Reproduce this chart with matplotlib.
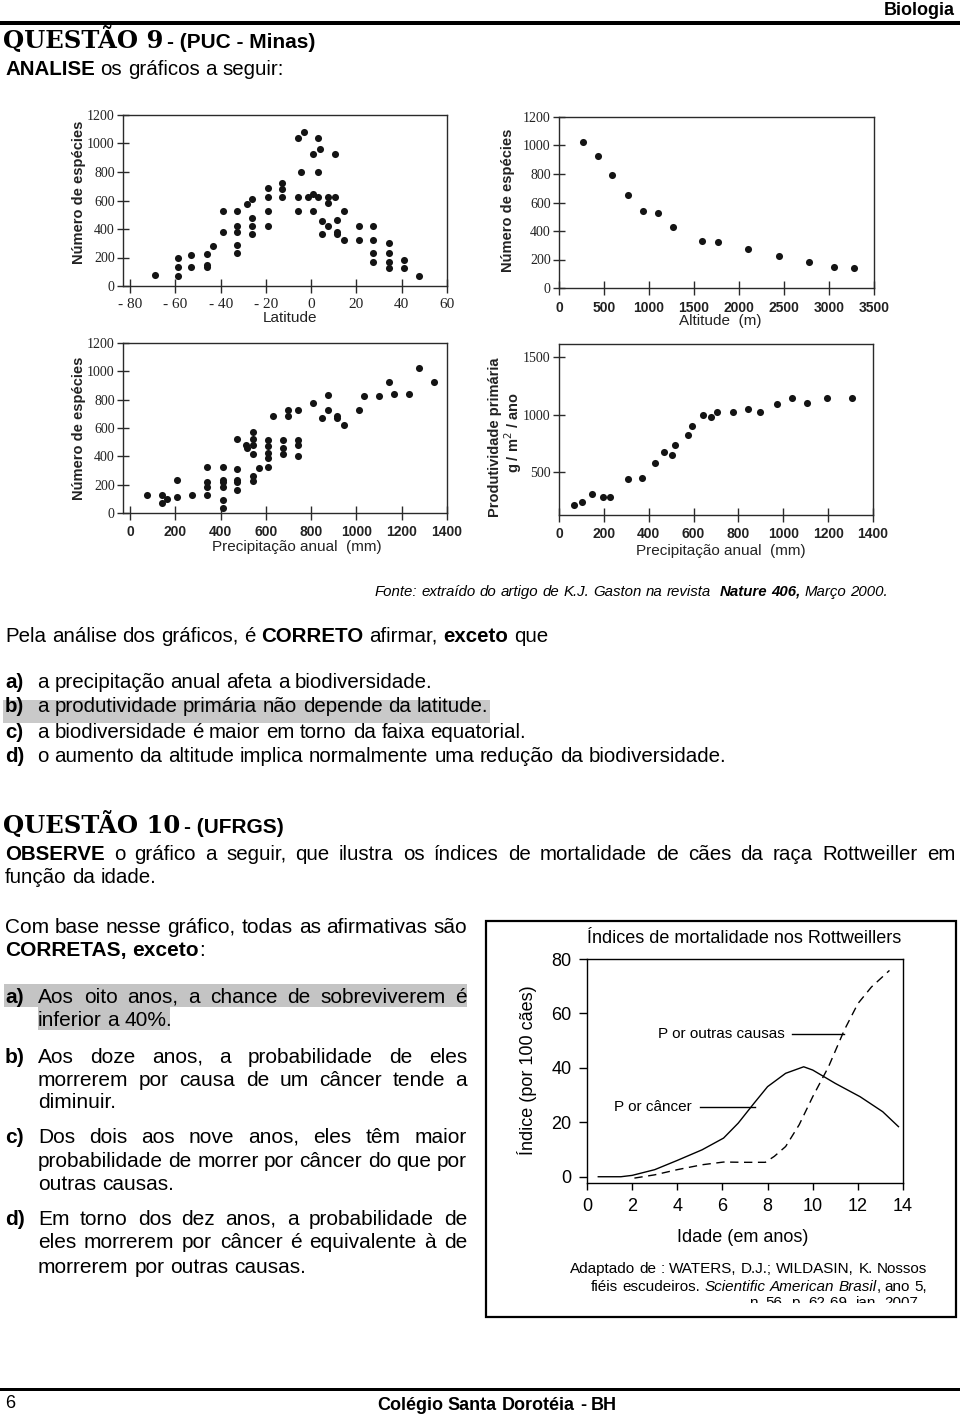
import math
import matplotlib
matplotlib.use('Agg')
import matplotlib.pyplot as plt
from matplotlib.patches import Rectangle
from matplotlib.font_manager import FontProperties

W, H = 960, 1415

# ---- dados: numero de especies x latitude
lat_x = [-69, -59, -59, -59, -53, -53, -46, -46, -46, -43.5, -39, -39,
         -33, -33, -33, -33, -33, -28.4, -26, -26, -26, -26, -19, -19, -19, -19,
         -13, -13, -13, -6, -3.2, -4.5, -6, -6, -1.3, 0.8, 0.8, 0.8, 2.8, 2.8, 2.8,
         4.0, 4.7, 4.7, 7.4, 7.4, 7.4, 10.6, 10.3, 11.4, 11.4, 11.4, 14.3, 14.3,
         21, 21, 27.3, 27.3, 27.3, 27.3, 34.4, 34.4, 34.4, 34.4, 40.8, 40.8, 47.5]
lat_y = [80, 70, 130, 195, 130, 218, 225, 148, 130, 283, 524, 381,
         524, 423, 381, 290, 234, 573, 613, 475, 423, 365, 690, 622, 524, 423,
         723, 678, 622, 1041, 1081, 798, 622, 524, 622, 924, 646, 524, 1041, 798, 622,
         961, 454, 365, 622, 580, 423, 924, 622, 463, 381, 365, 524, 323,
         423, 323, 423, 323, 229, 171, 304, 229, 171, 124, 180, 124, 73]

# ---- numero de especies x altitude
alt_x = [264, 431, 586, 765, 932, 1099, 1266, 1585, 1771, 2105, 2446, 2777, 3055, 3278]
alt_y = [1027, 926, 791, 650, 543, 524, 426, 332, 323, 274, 222, 180, 147, 140]

# ---- numero de especies x precipitacao
prec_x = [75, 142, 142, 162, 207, 207, 273, 340, 340, 340, 340,
          408, 408, 408, 408, 408, 408, 474, 474, 474, 474, 474, 511, 517,
          541, 541, 541, 541, 541, 541, 569, 607, 607, 607, 607, 607, 629,
          674, 674, 674, 699, 699, 742, 742, 742, 742, 809, 849, 876, 876,
          916, 916, 945, 1012, 1034, 1100, 1145, 1167, 1233, 1278, 1344]
prec_y = [125, 125, 71, 101, 235, 111, 125, 325, 216, 184, 125,
          325, 235, 216, 184, 89, 33, 311, 235, 216, 165, 525, 478, 456,
          569, 525, 478, 416, 259, 224, 318, 518, 471, 424, 388, 325, 687,
          518, 459, 416, 729, 687, 729, 518, 478, 400, 776, 668, 835, 729,
          687, 668, 621, 725, 824, 824, 925, 842, 842, 1024, 925]

# ---- produtividade primaria x precipitacao
prod_x = [68, 102, 149, 194, 229, 306, 372, 427, 466, 506, 517, 575, 591,
          640, 679, 705, 775, 841, 896, 974, 1039, 1107, 1196, 1305]
prod_y = [216, 242, 314, 286, 286, 439, 451, 581, 674, 651, 735, 828, 900,
          996, 981, 1025, 1025, 1054, 1025, 1097, 1146, 1106, 1146, 1146]

# ---- mortalidade dos Rottweillers
age_cancer = [0.5, 1.5, 2.0, 3.0, 4.0, 5.1, 6.05, 6.7, 7.4, 8.0, 8.8, 9.6,
              10.0, 11.0, 12.1, 13.1, 13.8]
idx_cancer = [0, 0, 0.5, 2.6, 6.0, 9.9, 14.2, 19.7, 27.0, 33.1, 38.0, 40.4,
              39.2, 34.3, 29.4, 23.9, 18.4]
age_other = [2.1, 3.0, 4.0, 5.1, 6.05, 7.0, 7.9, 8.3, 8.8, 9.4, 10.0, 10.7,
             11.4, 12.0, 12.6, 13.4]
idx_other = [-0.5, 0.7, 2.6, 4.4, 5.4, 5.3, 5.3, 7.5, 11.1, 19.1, 29.4, 40.4,
             53.9, 63.6, 69.7, 75.8]

lat_ticks = [-80, -60, -40, -20, 0, 20, 40, 60]
lat_ticklabels = ['- 80', '- 60', '- 40', '- 20', '0', '20', '40', '60']
esp_ticks = [0, 200, 400, 600, 800, 1000, 1200]
alt_ticks = [0, 500, 1000, 1500, 2000, 2500, 3000, 3500]
prec_ticks = [0, 200, 400, 600, 800, 1000, 1200, 1400]
prod_ticks = [500, 1000, 1500]
age_ticks = [0, 2, 4, 6, 8, 10, 12, 14]
idx_ticks = [0, 20, 40, 60, 80]

SANS = 'Liberation Sans'
SERIF = 'Liberation Serif'
DOT = '#141414'
BODY = 14.75
NUDGE = 1 / 128   # fica longe do meio pixel no arredondamento do Agg

fig = plt.figure(figsize=(W / 100, H / 100), dpi=100)
renderer = fig.canvas.get_renderer()
canvas_h = renderer.get_canvas_width_height()[1]


def add_ax(l, t, r, b):
    return fig.add_axes([l / W, 1 - b / H, (r - l) / W, (b - t) / H])


def put(x, y, s, **kw):
    kw.setdefault('va', 'baseline')
    return fig.text(x / W, 1 - y / H, s, **kw)


def fprops(size, family, bold=False, ital=False):
    return FontProperties(family=family, size=size, weight='bold' if bold else 'normal',
                          style='italic' if ital else 'normal')


def tw(s, size, family, bold=False, ital=False):
    w, h, d = renderer.get_text_width_height_descent(s, fprops(size, family, bold, ital), ismath=False)
    return w


def snap_y(y0, s, size, family, bold=False, ital=False):
    # o Agg arredonda a posicao do bitmap usando a descendente de cada texto;
    # escolhe o y que deixa todas as palavras na mesma linha de base
    w, h, d = renderer.get_text_width_height_descent(s, fprops(size, family, bold, ital), ismath=False)
    for cand in (y0, y0 - 1, y0 + 1, y0 - 2, y0 + 2):
        ypos = cand - NUDGE
        yc = canvas_h - fig.transFigure.transform((0, 1 - ypos / H))[1]
        row = round(yc + d) - math.floor(h) + math.floor(h - d)
        if row == y0:
            return ypos
    return y0 - NUDGE


def parse(s):
    # '*' liga/desliga negrito, '_' liga/desliga italico
    words, bold, ital = [], False, False
    for w in s.split(' '):
        runs, cur = [], ''
        for ch in w:
            if ch in '*_':
                if cur:
                    runs.append((cur, bold, ital))
                cur = ''
                if ch == '*':
                    bold = not bold
                else:
                    ital = not ital
            else:
                cur += ch
        if cur:
            runs.append((cur, bold, ital))
        words.append(runs)
    return words


def text_line(s, x0, y, x1=None, size=BODY, family=SANS, align='left', clip=None):
    words = parse(s)
    kw = dict(fontsize=size, family=family)
    sp = tw('a a', size, family) - tw('aa', size, family)
    wsum = sum(tw(txt, size, family, b, it) for wr in words for txt, b, it in wr)
    gap = sp
    if align == 'justify' and len(words) > 1:
        gap = (x1 - x0 - wsum) / (len(words) - 1)
    total = wsum + gap * (len(words) - 1)
    x = x0
    if align == 'right':
        x = x1 - total
    elif align == 'center':
        x = x0 - total / 2
    yb = round(y)
    for wr in words:
        for txt, b, it in wr:
            t = put(x, snap_y(yb, txt, size, family, b, it), txt,
                    fontweight='bold' if b else 'normal',
                    fontstyle='italic' if it else 'normal', **kw)
            if clip is not None:
                t.set_clip_path(clip)
            x += tw(txt, size, family, b, it)
        x += gap


def scatter_panel(box, xs, ys, xlim, ylim, xticks, yticks, xlabels=None,
                  xfont=None, xpad=4, ypad=2):
    ax = add_ax(*box)
    ax.scatter(xs, ys, s=26, color=DOT, linewidths=0, zorder=3)
    ax.set_xlim(*xlim)
    ax.set_ylim(*ylim)
    ax.set_xticks(xticks)
    ax.set_yticks(yticks)
    if xlabels is not None:
        ax.set_xticklabels(xlabels)
    for sp in ax.spines.values():
        sp.set_linewidth(1.0)
        sp.set_color('#2a2a2a')
    ax.tick_params(axis='x', direction='inout', length=10, width=1.0, pad=xpad, color='#2a2a2a')
    ax.tick_params(axis='y', direction='inout', length=8, width=1.0, pad=ypad, color='#2a2a2a')
    for lb in ax.get_yticklabels():
        lb.set_family(SERIF)
        lb.set_fontsize(10)
        lb.set_color('#222222')
    for lb in ax.get_xticklabels():
        lb.set_family(xfont[0])
        lb.set_fontsize(xfont[1])
        lb.set_fontweight(xfont[2])
        lb.set_color('#222222')
    return ax


# ---------------- cabecalho
fig.add_artist(Rectangle((0, 1 - 25 / H), 1, 4 / H, transform=fig.transFigure,
                         color='black', lw=0))
put(955, 15, 'Biologia', fontsize=13, family=SANS, fontweight='bold', ha='right')
put(3, 48.5, 'QUESTÃO 9', fontsize=17.5, family='DejaVu Serif', fontweight='bold')
put(167, 48.5, '- (PUC - Minas)', fontsize=15, family=SANS, fontweight='bold')
text_line('*ANALISE* os gráficos a seguir:', 5, 75)

# ---------------- quatro graficos de dispersao
scatter_panel((123, 115, 447, 286), lat_x, lat_y, (-83.2, 60), (0, 1200),
              lat_ticks, esp_ticks, lat_ticklabels, (SERIF, 11, 'normal'))
scatter_panel((559, 117, 874, 288), alt_x, alt_y, (0, 3500), (0, 1200),
              alt_ticks, esp_ticks, None, (SANS, 10, 'bold'))
scatter_panel((123, 343, 447, 513), prec_x, prec_y, (-32, 1400), (0, 1200),
              prec_ticks, esp_ticks, None, (SANS, 10, 'bold'))
scatter_panel((559, 344, 873, 515), prod_x, prod_y, (0, 1400), (129, 1616),
              prec_ticks, prod_ticks, None, (SANS, 10, 'bold'))

ykw = dict(fontsize=10.5, family=SANS, fontweight='bold', rotation=90,
           ha='center', va='center', color='#222222')
put(79, 192, 'Número de espécies', **ykw)
put(508, 200, 'Número de espécies', **ykw)
put(79, 428, 'Número de espécies', **ykw)
put(495, 437, 'Produtividade primária', **ykw)
put(513, 433, 'g / m$^2$ / ano', **ykw)
xkw = dict(fontsize=11, family=SANS, ha='center', color='#222222')
put(290, 322.5, 'Latitude', **xkw)
put(720, 325, 'Altitude  (m)', **xkw)
put(297, 551.5, 'Precipitação anual  (mm)', **xkw)
put(721, 555, 'Precipitação anual  (mm)', **xkw)

text_line('_Fonte: extraído do artigo de K.J. Gaston na revista_  *_Nature 406,_* _Março 2000._',
          375, 596, size=10.8)

# ---------------- questao 9
text_line('Pela análise dos gráficos, é *CORRETO* afirmar, *exceto* que', 5, 641.5)
fig.add_artist(Rectangle((3 / W, 1 - 723 / H), 487 / W, 23 / H, transform=fig.transFigure,
                         color='#c9c9c9', lw=0, zorder=-1))
opts9 = ['a precipitação anual afeta a biodiversidade.',
         'a produtividade primária não depende da latitude.',
         'a biodiversidade é maior em torno da faixa equatorial.',
         'o aumento da altitude implica normalmente uma redução da biodiversidade.']
for i, (lab, y) in enumerate(zip('abcd', [688.3, 711.7, 738.3, 761.7])):
    text_line('*' + lab + ')*', 5, y)
    text_line(opts9[i], 37, y)

# ---------------- questao 10
put(3, 833.3, 'QUESTÃO 10', fontsize=17.5, family='DejaVu Serif', fontweight='bold')
put(184, 833.3, '- (UFRGS)', fontsize=15, family=SANS, fontweight='bold')
text_line('*OBSERVE* o gráfico a seguir, que ilustra os índices de mortalidade de cães da raça Rottweiller em',
          5, 860, 955, align='justify')
text_line('função da idade.', 5, 883.3)
text_line('Com base nesse gráfico, todas as afirmativas são', 5, 932.7, 467, size=15, align='justify')
text_line('*CORRETAS,* *exceto*:', 5, 955.7, size=15)

fig.add_artist(Rectangle((4 / W, 1 - 1007 / H), 463 / W, 23 / H, transform=fig.transFigure,
                         color='#c4c4c4', lw=0, zorder=-1))
fig.add_artist(Rectangle((38 / W, 1 - 1029.5 / H), 132 / W, 22.5 / H, transform=fig.transFigure,
                         color='#c4c4c4', lw=0, zorder=-1))
opts10 = [
    ['Aos oito anos, a chance de sobreviverem é', 'inferior a 40%.'],
    ['Aos doze anos, a probabilidade de eles', 'morrerem por causa de um câncer tende a', 'diminuir.'],
    ['Dos dois aos nove anos, eles têm maior', 'probabilidade de morrer por câncer do que por', 'outras causas.'],
    ['Em torno dos dez anos, a probabilidade de', 'eles morrerem por câncer é equivalente à de',
     'morrerem por outras causas.'],
]
base10 = [[1002.7, 1026], [1062.7, 1085.7, 1108.3], [1143.3, 1166.7, 1190], [1225, 1248.3, 1272.7]]
for lab, lines, ys in zip('abcd', opts10, base10):
    text_line('*' + lab + ')*', 5, ys[0], size=15)
    for k, (ln, y) in enumerate(zip(lines, ys)):
        last = k == len(lines) - 1
        text_line(ln, 38, y, 467, size=15, align='left' if last else 'justify')

# ---------------- grafico de mortalidade
fig.add_artist(Rectangle((486 / W, 1 - 1317 / H), 470 / W, 396 / H, transform=fig.transFigure,
                         fill=False, ec='black', lw=1.6))
ax = add_ax(587, 959, 903, 1183)
ax.plot(age_cancer, idx_cancer, color='black', lw=1.0)
ax.plot(age_other, idx_other, color='black', lw=1.0, dashes=(6, 4))
ax.set_xlim(0, 14)
ax.set_ylim(-2.3, 80)
ax.set_xticks(age_ticks)
ax.set_yticks(idx_ticks)
ax.tick_params(direction='out', width=1.0, labelsize=13)
ax.tick_params(axis='y', length=6, pad=5)
ax.tick_params(axis='x', length=5, pad=6)
for lb in ax.get_xticklabels() + ax.get_yticklabels():
    lb.set_family(SANS)
for sp in ax.spines.values():
    sp.set_linewidth(1.0)
ax.text(8.78, 52.3, 'P or outras causas', ha='right', va='center', fontsize=11, family=SANS)
ax.plot([9.07, 11.4], [52.3, 52.3], color='black', lw=1.0)
ax.text(4.63, 25.8, 'P or câncer', ha='right', va='center', fontsize=11, family=SANS)
ax.plot([5.0, 7.45], [25.8, 25.8], color='black', lw=1.0)

put(744, 942.7, 'Índices de mortalidade nos Rottweillers', fontsize=13, family=SANS, ha='center')
put(527, 1070, 'Índice (por 100 cães)', fontsize=13, family=SANS, rotation=90, ha='center', va='center')
put(743, 1241.7, 'Idade (em anos)', fontsize=13, family=SANS, ha='center')

clip = Rectangle((0, 1 - 1303 / H), 1, 1303 / H, transform=fig.transFigure, visible=False)
fig.add_artist(clip)
text_line('Adaptado de : WATERS, D.J.; WILDASIN, K. Nossos', 0, 1273, 927, size=11, align='right')
text_line('fiéis escudeiros. _Scientific American Brasil_, ano 5,', 0, 1290.7, 927, size=11, align='right')
text_line('n. 56, p. 62-69, jan. 2007.', 0, 1306.7, 922, size=11, align='right', clip=clip)

# ---------------- rodape
fig.add_artist(Rectangle((0, 1 - 1391 / H), 1, 3.5 / H, transform=fig.transFigure,
                         color='black', lw=0))
put(5, 1408, '6', fontsize=13, family=SANS)
text_line('*Colégio Santa Dorotéia - BH*', 497, 1410, size=13, align='center')

fig.savefig('out.png', dpi=100)
